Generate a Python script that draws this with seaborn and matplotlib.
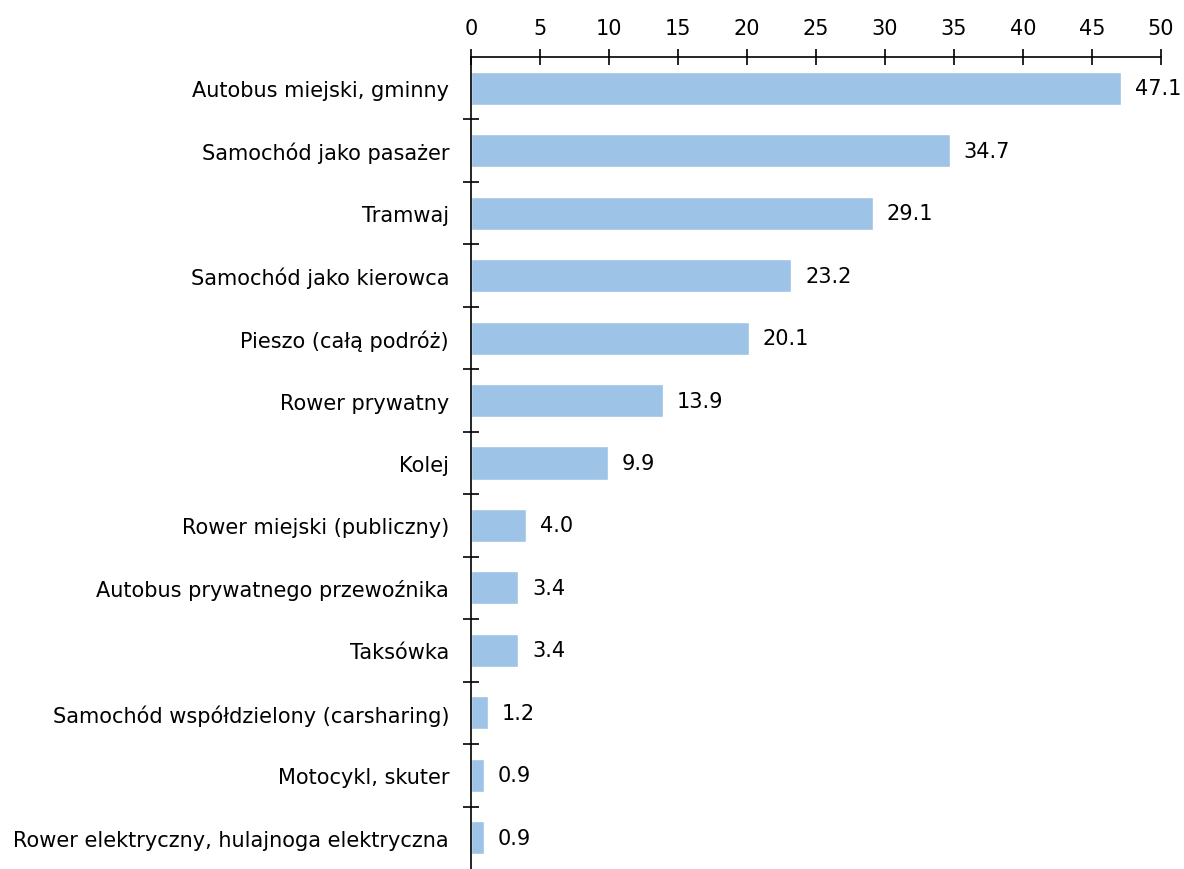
import matplotlib
matplotlib.use("Agg")
import matplotlib.pyplot as plt
from matplotlib.ticker import MultipleLocator
import seaborn as sns
import pandas as pd

categories = [
    "Autobus miejski, gminny",
    "Samochód jako pasażer",
    "Tramwaj",
    "Samochód jako kierowca",
    "Pieszo (całą podróż)",
    "Rower prywatny",
    "Kolej",
    "Rower miejski (publiczny)",
    "Autobus prywatnego przewoźnika",
    "Taksówka",
    "Samochód współdzielony (carsharing)",
    "Motocykl, skuter",
    "Rower elektryczny, hulajnoga elektryczna",
]
values = [47.1, 34.7, 29.1, 23.2, 20.1, 13.9, 9.9, 4.0, 3.4, 3.4, 1.2, 0.9, 0.9]

df = pd.DataFrame({"kategoria": categories, "wartosc": values})

sns.set_style("white")
plt.rcParams["font.family"] = ["DejaVu Sans"]
plt.rcParams["text.color"] = "black"
plt.rcParams["xtick.color"] = "black"
plt.rcParams["ytick.color"] = "black"

fig = plt.figure(figsize=(11.84, 8.7), dpi=100)
ax = fig.add_axes([0.398, 0.0, 0.5826, 0.9333])

sns.barplot(data=df, x="wartosc", y="kategoria", orient="h",
            color="#9DC3E6", saturation=1, width=0.53, ax=ax)

# value labels right of each bar
for i, v in enumerate(values):
    ax.text(v + 1.0, i, f"{v:.1f}", va="center", ha="left", fontsize=15,
            color="black")

ax.set_xlim(0, 50)
ax.set_ylim(len(categories) - 0.5, -0.5)
ax.xaxis.set_major_locator(MultipleLocator(5))
ax.xaxis.tick_top()
ax.set_xlabel("")
ax.set_ylabel("")

for side in ["right", "bottom"]:
    ax.spines[side].set_visible(False)
for side in ["top", "left"]:
    ax.spines[side].set_color("black")
    ax.spines[side].set_linewidth(1.2)

ax.tick_params(axis="x", which="major", direction="inout", length=12, width=1.2,
               labelsize=15, pad=8, top=True, bottom=False)
ax.set_yticks(range(len(categories)))
ax.set_yticks([i + 0.5 for i in range(len(categories) - 1)], minor=True)
ax.tick_params(axis="y", which="major", length=0, labelsize=15, pad=16)
ax.tick_params(axis="y", which="minor", direction="inout", length=12, width=1.2,
               left=True)

fig.savefig("out.png", dpi=100)
